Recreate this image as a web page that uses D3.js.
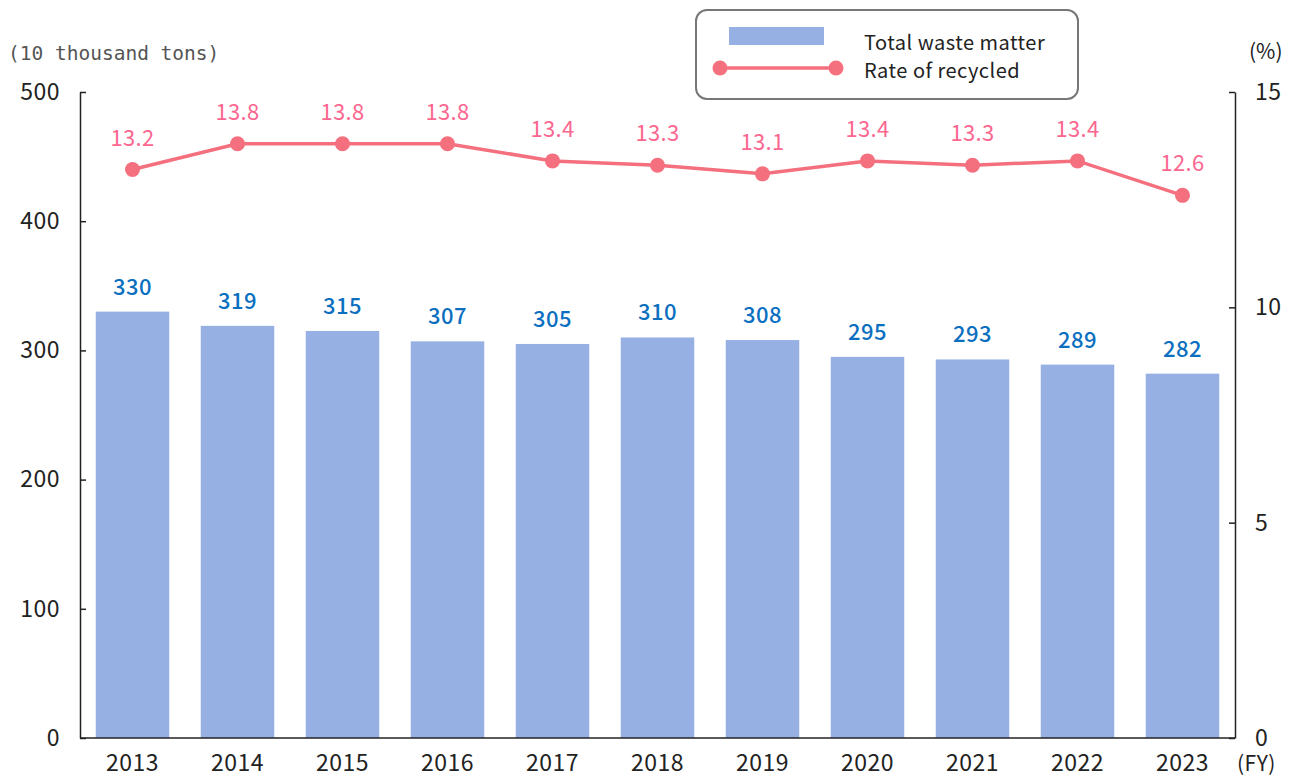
<!DOCTYPE html>
<html>
<head>
<meta charset="utf-8">
<script src="https://cdn.jsdelivr.net/npm/d3@7"></script>
<style>
  body { margin: 0; background: #fff; }
  text { font-family: "Noto Sans CJK JP", "Noto Sans", sans-serif; }
</style>
</head>
<body>
<div id="chart"></div>
<script>
var years = ["2013", "2014", "2015", "2016", "2017", "2018", "2019", "2020", "2021", "2022", "2023"];
var totalWaste = [330, 319, 315, 307, 305, 310, 308, 295, 293, 289, 282];
var recycleRate = [13.2, 13.8, 13.8, 13.8, 13.4, 13.3, 13.1, 13.4, 13.3, 13.4, 12.6];
var leftTicks = [0, 100, 200, 300, 400, 500];
var rightTicks = [0, 5, 10, 15];

var width = 1309, height = 778;
var plot = { left: 80, right: 1235, top: 92, bottom: 738 };

var barColor = "#96b0e4";
var lineColor = "#f4707f";
var rateLabel = "#fb6790";
var barLabel = "#0b6fc0";

var svg = d3.select("#chart")
            .append("svg")
              .attr("width", width)
              .attr("height", height);

var x = d3.scaleBand()
          .domain(years)
          .range([plot.left, plot.right])
          .paddingInner(0.3)
          .paddingOuter(0.15);

var yLeft = d3.scaleLinear()
              .domain([0, 500])
              .range([plot.bottom, plot.top]);

var yRight = d3.scaleLinear()
               .domain([0, 15])
               .range([plot.bottom, plot.top]);

var data = years.map((y, i) => ({ year: y, total: totalWaste[i], rate: recycleRate[i] }));

// bars
svg.selectAll(".bar")
   .data(data)
   .enter()
   .append("rect")
     .attr("class", "bar")
     .attr("x", d => x(d.year))
     .attr("y", d => yLeft(d.total))
     .attr("width", x.bandwidth())
     .attr("height", d => yLeft(0) - yLeft(d.total))
     .attr("fill", barColor);

svg.selectAll(".bar-label")
   .data(data)
   .enter()
   .append("text")
     .attr("class", "bar-label")
     .attr("x", d => x(d.year) + x.bandwidth() / 2)
     .attr("y", d => yLeft(d.total) - 17)
     .attr("text-anchor", "middle")
     .attr("font-size", 22)
     .attr("font-weight", 500)
     .attr("letter-spacing", 0.5)
     .attr("fill", barLabel)
     .text(d => d.total);

// axes
var leftAxis = d3.axisLeft(yLeft).tickValues(leftTicks).tickSizeInner(-6).tickSizeOuter(0).tickPadding(20);
var rightAxis = d3.axisRight(yRight).tickValues(rightTicks).tickSizeInner(-6).tickSizeOuter(0).tickPadding(20);
var bottomAxis = d3.axisBottom(x).tickSize(0).tickPadding(17);

var gl = svg.append("g")
   .attr("transform", "translate(" + plot.left + ",0)")
   .call(leftAxis);
var gr = svg.append("g")
   .attr("transform", "translate(" + plot.right + ",0)")
   .call(rightAxis);
var gb = svg.append("g")
   .attr("transform", "translate(0," + plot.bottom + ")")
   .call(bottomAxis);

[gl, gr, gb].forEach(g => {
  g.select(".domain").attr("stroke", "#222").attr("stroke-width", 1.5);
  g.selectAll(".tick line").attr("stroke", "#222").attr("stroke-width", 1.5);
  g.selectAll("text")
   .attr("font-size", 23)
   .attr("letter-spacing", 0.5)
   .attr("fill", "#222");
});
gb.select(".domain").attr("d", "M" + plot.left + ",0H" + plot.right);
gb.selectAll("text").attr("dy", "0.71em");

// line
var line = d3.line()
             .x(d => x(d.year) + x.bandwidth() / 2)
             .y(d => yRight(d.rate));

svg.append("path")
   .datum(data)
   .attr("fill", "none")
   .attr("stroke", lineColor)
   .attr("stroke-width", 3.5)
   .attr("d", line);

svg.selectAll(".dot")
   .data(data)
   .enter()
   .append("circle")
     .attr("class", "dot")
     .attr("cx", d => x(d.year) + x.bandwidth() / 2)
     .attr("cy", d => yRight(d.rate))
     .attr("r", 7.5)
     .attr("fill", lineColor);

svg.selectAll(".rate-label")
   .data(data)
   .enter()
   .append("text")
     .attr("class", "rate-label")
     .attr("x", d => x(d.year) + x.bandwidth() / 2)
     .attr("y", d => yRight(d.rate) - 24)
     .attr("text-anchor", "middle")
     .attr("font-size", 22)
     .attr("letter-spacing", 0.3)
     .attr("fill", rateLabel)
     .text(d => d.rate.toFixed(1));

// unit labels
svg.append("text")
   .attr("x", 8).attr("y", 60)
   .style("font-family", "'DejaVu Sans Mono', monospace")
   .attr("font-size", 19.5).attr("fill", "#555")
   .text("(10 thousand tons)");
svg.append("text")
   .attr("x", 1249).attr("y", 59)
   .attr("font-size", 21).attr("fill", "#222")
   .text("(%)");
svg.append("text")
   .attr("x", 1237).attr("y", 771)
   .attr("font-size", 21).attr("letter-spacing", 0.5).attr("fill", "#222")
   .text("(FY)");

// legend
var legend = svg.append("g");
legend.append("rect")
      .attr("x", 696).attr("y", 10)
      .attr("width", 382).attr("height", 89)
      .attr("rx", 11)
      .attr("fill", "#fff")
      .attr("stroke", "#777")
      .attr("stroke-width", 2);
legend.append("rect")
      .attr("x", 729).attr("y", 27)
      .attr("width", 95).attr("height", 18)
      .attr("fill", barColor);
legend.append("line")
      .attr("x1", 720).attr("x2", 836)
      .attr("y1", 68).attr("y2", 68)
      .attr("stroke", lineColor).attr("stroke-width", 3.5);
legend.selectAll(".ldot")
      .data([720, 836])
      .enter()
      .append("circle")
        .attr("cx", d => d).attr("cy", 68).attr("r", 7.5)
        .attr("fill", lineColor);
legend.append("text")
      .attr("x", 864).attr("y", 50)
      .attr("font-size", 20).attr("letter-spacing", 0.5).attr("fill", "#222")
      .text("Total waste matter");
legend.append("text")
      .attr("x", 864).attr("y", 78)
      .attr("font-size", 20).attr("letter-spacing", 0.5).attr("fill", "#222")
      .text("Rate of recycled");
</script>
</body>
</html>
